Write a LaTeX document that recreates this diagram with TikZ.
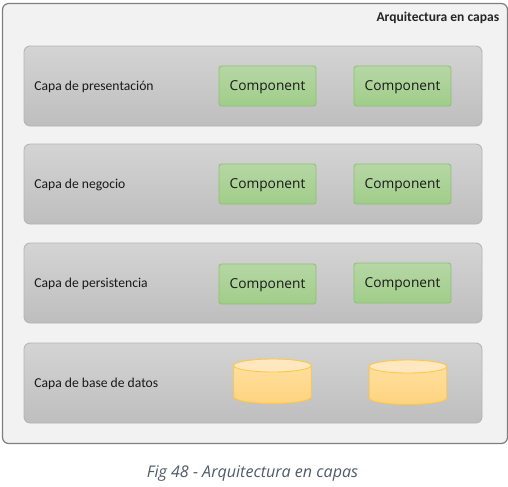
\documentclass[tikz,border=0pt]{standalone}
\usepackage{fontspec}
\setmainfont{Carlito}
\newfontfamily\compfont{Open Sans}
\usetikzlibrary{shapes.geometric}
\definecolor{outerfill}{HTML}{F2F2F2}
\definecolor{outerline}{HTML}{7F7F7F}
\definecolor{layerline}{HTML}{B4B4B4}
\definecolor{layertop}{HTML}{D4D4D4}
\definecolor{layerbot}{HTML}{BEBEBE}
\definecolor{greenline}{HTML}{8CC272}
\definecolor{greentop}{HTML}{B6D7A5}
\definecolor{greenbot}{HTML}{A0CD89}
\definecolor{dbline}{HTML}{FFC742}
\definecolor{dbtopcol}{HTML}{FFDF9E}
\definecolor{dbbotcol}{HTML}{FFD37F}
\definecolor{dbcap}{HTML}{FFE8C0}
\definecolor{captioncol}{HTML}{505A68}
\tikzset{
    layerbox/.style={draw=layerline, line width=0.5pt, rounded corners=3.5, top color=layertop, bottom color=layerbot, minimum width=0.02cm*458, minimum height=0.02cm*80, inner sep=0pt},
    compbox/.style={draw=greenline, line width=0.5pt, rounded corners=1.5, top color=greentop, bottom color=greenbot, minimum width=0.02cm*97, minimum height=0.02cm*40, inner sep=0pt, text depth=0pt, font=\compfont\fontsize{7.8}{9}\selectfont, text=black!90},
    dbbody/.style={draw=dbline, line width=0.5pt, top color=dbtopcol, bottom color=dbbotcol},
    dbtop/.style={draw=dbline, line width=0.5pt, ellipse, fill=dbcap, minimum width=0.02cm*77.5, minimum height=0.02cm*13, inner sep=0pt},
    layerlabel/.style={anchor=west, inner sep=0pt, text depth=0pt, font=\fontsize{7.75}{9}\selectfont, text=black!90},
}
\newcommand{\dbdrum}[3]{%
    \coordinate (#1) at (#2,#3);
    \draw[dbbody] ([xshift=-0.775cm]#1) -- ++(0,31.5) arc[start angle=180, end angle=360, x radius=0.775cm, y radius=0.13cm] -- ([xshift=0.775cm]#1) -- cycle;
    \node[dbtop] (#1top) at (#1) {};
}
\begin{document}
\begin{tikzpicture}[x=0.02cm,y=-0.02cm]
    \useasboundingbox (0,0) rectangle (508,487);

    \draw[outerline, line width=0.7pt, fill=outerfill, rounded corners=3.5] (2.5,3.5) rectangle (507.5,443.5);
    \node[anchor=east, inner sep=0pt, font=\bfseries\fontsize{7.7}{9}\selectfont, text=black!85] (title) at (499.5,17.5) {Arquitectura en capas};

    % layers
    \node[layerbox] (presentation) at (253,86) {};
    \node[layerbox] (business) at (253,184) {};
    \node[layerbox] (persistence) at (253,283) {};
    \node[layerbox] (database) at (253,383) {};

    \node[layerlabel] (presentationlabel) at (34,86) {Capa de presentación};
    \node[layerlabel] (businesslabel) at (34,184) {Capa de negocio};
    \node[layerlabel] (persistencelabel) at (34,283) {Capa de persistencia};
    \node[layerlabel] (databaselabel) at (34,383) {Capa de base de datos};

    % components
    \node[compbox] (comp1a) at (267.5,86) {Component};
    \node[compbox] (comp1b) at (402.5,86) {Component};
    \node[compbox] (comp2a) at (267.5,184) {Component};
    \node[compbox] (comp2b) at (402.5,184) {Component};
    \node[compbox] (comp3a) at (267.5,284) {Component};
    \node[compbox] (comp3b) at (402.5,283) {Component};

    % databases
    \dbdrum{db1}{272.5}{365.5}
    \dbdrum{db2}{408}{366.5}

    \node[inner sep=0pt, text depth=0pt, font=\compfont\itshape\fontsize{9.15}{11}\selectfont, text=captioncol] (caption) at (252.5,471.5) {Fig 48 - Arquitectura en capas};
\end{tikzpicture}
\end{document}
